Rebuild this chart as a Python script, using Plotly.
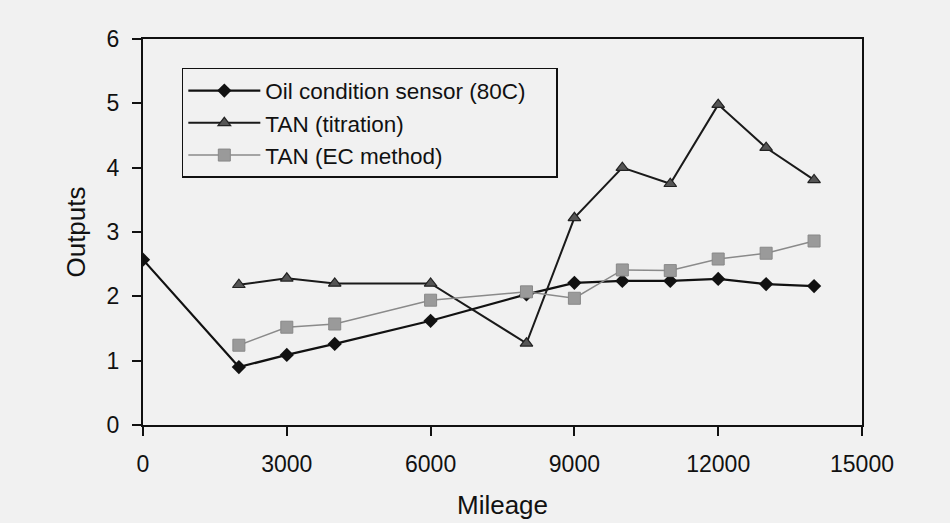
import plotly.graph_objects as go

mileage_oil = [0, 2000, 3000, 4000, 6000, 8000, 9000, 10000, 11000, 12000, 13000, 14000]
oil_sensor = [2.57, 0.90, 1.09, 1.26, 1.62, 2.03, 2.21, 2.24, 2.24, 2.27, 2.19, 2.16]

mileage_tan = [2000, 3000, 4000, 6000, 8000, 9000, 10000, 11000, 12000, 13000, 14000]
tan_titration = [2.18, 2.28, 2.20, 2.20, 1.27, 3.22, 4.00, 3.75, 4.98, 4.31, 3.81]
tan_ec = [1.24, 1.52, 1.57, 1.94, 2.07, 1.97, 2.41, 2.40, 2.58, 2.67, 2.86]

series_names = ["Oil condition sensor (80C)", "TAN (titration)", "TAN (EC method)"]

x_ticks = [0, 3000, 6000, 9000, 12000, 15000]
y_ticks = [0, 1, 2, 3, 4, 5, 6]

bg = "#f1f1f1"
font = "Liberation Sans, Arial, sans-serif"
pad = "\u00a0\u00a0\u00a0\u00a0"

fig = go.Figure()
fig.add_trace(go.Scatter(
    x=mileage_oil, y=oil_sensor, mode="lines+markers",
    name=series_names[0] + pad,
    line=dict(color="#111111", width=2.2),
    marker=dict(symbol="diamond", size=11, color="#111111"),
))
fig.add_trace(go.Scatter(
    x=mileage_tan, y=tan_titration, mode="lines+markers",
    name=series_names[1],
    line=dict(color="#1a1a1a", width=2),
    marker=dict(symbol="triangle-up", size=11, color="#555555",
                line=dict(color="#222222", width=1.2)),
))
fig.add_trace(go.Scatter(
    x=mileage_tan, y=tan_ec, mode="lines+markers",
    name=series_names[2],
    line=dict(color="#8a8a8a", width=1.5),
    marker=dict(symbol="square", size=12, color="#9a9a9a",
                line=dict(color="#888888", width=1)),
))

axis_common = dict(
    showline=True, linecolor="#111111", linewidth=2, mirror=True,
    ticks="outside", ticklen=9, tickwidth=1.5, tickcolor="#111111",
    showgrid=False, zeroline=False, automargin=False,
    tickfont=dict(family=font, size=23, color="#111111"),
)

fig.update_layout(
    width=950, height=523,
    paper_bgcolor=bg, plot_bgcolor=bg,
    margin=dict(l=143, r=88, t=39, b=98),
    font=dict(family=font, color="#111111"),
    xaxis=dict(range=[0, 15000], tickvals=x_ticks, ticktext=[str(v) for v in x_ticks],
               ticklabelstandoff=8,
               title=dict(text="Mileage", font=dict(family=font, size=26), standoff=20),
               **axis_common),
    yaxis=dict(range=[0, 6], tickvals=y_ticks, ticklabelstandoff=8,
               title=dict(text="Outputs", font=dict(family=font, size=26), standoff=14),
               **axis_common),
    legend=dict(
        x=0.054, y=0.925, xanchor="left", yanchor="top",
        bgcolor=bg, bordercolor="#111111", borderwidth=1.5,
        font=dict(family=font, size=22.5, color="#111111"),
        itemwidth=72, tracegroupgap=0,
    ),
    showlegend=True,
)

fig.write_html("out.html")
